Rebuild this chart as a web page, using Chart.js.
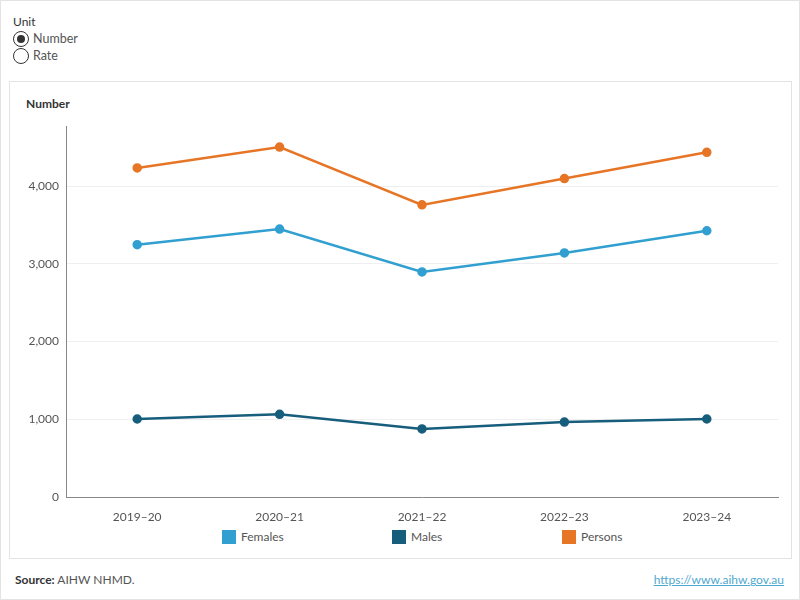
<!DOCTYPE html>
<html>
<head>
<meta charset="utf-8">
<script src="https://cdn.jsdelivr.net/npm/chart.js@4"></script>
<style>
  body { margin: 0; width: 800px; height: 600px; font-family: Lato, "Open Sans", sans-serif; color: #444; background: #fff; }
  .page { position: absolute; left: 0; top: 0; width: 798px; height: 598px; border: 1px solid #e3e3e3; }
  .unit { position: absolute; left: 13px; top: 14px; font-size: 12px; }
  .unit .title { color: #333; margin-bottom: 1px; }
  .radio { display: flex; align-items: center; height: 17px; color: #555; font-size: 12.5px; }
  .radio span.dot { width: 16px; height: 16px; border: 1px solid #333; border-radius: 50%; box-sizing: border-box; margin-right: 4px; position: relative; }
  .radio span.dot.on::after { content: ""; position: absolute; left: 3px; top: 3px; width: 8px; height: 8px; border-radius: 50%; background: #333; }
  .panel { position: absolute; left: 9px; top: 81px; width: 781px; height: 476px; border: 1px solid #e3e3e3; }
  .ytitle { position: absolute; left: 26px; top: 96px; font-size: 12px; color: #333; font-weight: bold; }
  #chartWrap { position: absolute; left: 10px; top: 83px; width: 780px; height: 440px; }
  .legend { position: absolute; left: 222px; top: 529px; display: flex; font-size: 12px; color: #555; }
  .legend div { width: 170px; display: flex; align-items: center; }
  .legend i { width: 14px; height: 14px; margin-right: 5px; display: inline-block; }
  .source { position: absolute; left: 15px; top: 572px; font-size: 12px; color: #555; }
  .source b { color: #333; font-weight: bold; }
  .link { position: absolute; right: 16px; top: 572px; font-size: 12px; color: #4fa8cf; text-decoration: underline; }
</style>
</head>
<body>
<div class="page"></div>
<div class="unit">
  <div class="title">Unit</div>
  <div class="radio"><span class="dot on"></span>Number</div>
  <div class="radio"><span class="dot"></span>Rate</div>
</div>
<div class="panel"></div>
<div class="ytitle">Number</div>
<div id="chartWrap"><canvas id="lineChart"></canvas></div>
<div class="legend" id="legend"></div>
<div class="source"><b>Source:</b> AIHW NHMD.</div>
<div class="link">https://www.aihw.gov.au</div>

<script>
// data
const years = ["2019–20", "2020–21", "2021–22", "2022–23", "2023–24"];
const females = [3247, 3449, 2897, 3141, 3427];
const males = [1004, 1064, 876, 965, 1004];
const persons = [4235, 4504, 3760, 4099, 4436];
const yTicks = [0, 1000, 2000, 3000, 4000];

const seriesNames = ["Females", "Males", "Persons"];
const seriesColors = ["#31a0d0", "#175d7c", "#e77526"];
const seriesData = [females, males, persons];

const ctx = document.getElementById("lineChart").getContext("2d");

new Chart(ctx, {
  type: "line",
  data: {
    labels: years,
    datasets: seriesNames.map((name, i) => ({
      label: name,
      data: seriesData[i],
      borderColor: seriesColors[i],
      backgroundColor: seriesColors[i],
      borderWidth: 2.5,
      pointRadius: 3.5,
      pointHoverRadius: 4,
      tension: 0
    }))
  },
  options: {
    responsive: true,
    maintainAspectRatio: false,
    animation: false,
    layout: { padding: { top: 43, right: 12, left: 0, bottom: 0 } },
    plugins: { legend: { display: false }, tooltip: { enabled: false } },
    scales: {
      x: {
        offset: true,
        grid: { display: false },
        border: { color: "#888", width: 1 },
        ticks: { color: "#555", font: { family: "Lato", size: 12 }, padding: 5, maxRotation: 0 },
        afterFit: s => { s.height = 26; }
      },
      y: {
        min: 0,
        max: 4775,
        afterBuildTicks: s => { s.ticks = yTicks.map(v => ({ value: v })); },
        grid: { color: "#efefef", drawTicks: false },
        border: { color: "#888", width: 1 },
        ticks: {
          color: "#555",
          font: { family: "Lato", size: 12 },
          padding: 7,
          callback: v => v.toLocaleString("en-US")
        },
        afterFit: s => { s.width = 56; }
      }
    }
  }
});

// html legend spaced like the reference
const legend = document.getElementById("legend");
seriesNames.forEach((name, i) => {
  const item = document.createElement("div");
  item.innerHTML = `<i style="background:${seriesColors[i]}"></i>${name}`;
  legend.appendChild(item);
});
</script>
</body>
</html>
